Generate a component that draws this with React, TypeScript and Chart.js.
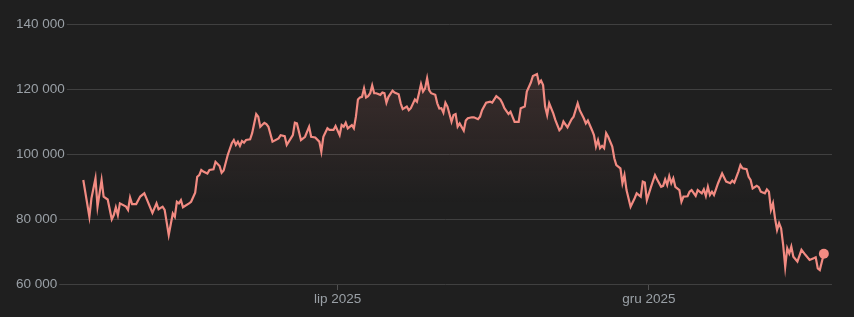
import React, { useEffect, useRef } from "react";
import { Chart, registerables } from "chart.js";

Chart.register(...registerables);

// Day offsets from 26 Feb 2025
const days = [0,3,4,6,7,9,10,12,14,15,16,17,18,21,22,23,24,26,28,30,31,34,36,37,39,40,42,44,45,46,47,48,49,52,53,55,56,57,58,59,61,62,64,65,67,68,69,71,73,74,75,76,77,78,79,80,82,83,85,86,87,89,90,91,93,96,97,99,100,102,103,104,105,107,109,111,112,114,116,117,118,120,121,123,124,126,127,128,129,130,132,133,134,135,136,137,138,139,140,141,142,143,144,146,147,148,149,150,152,153,155,156,157,159,160,161,163,164,165,166,167,168,169,170,171,173,174,175,176,177,178,179,181,182,183,184,185,187,188,189,191,192,194,195,196,198,200,201,203,205,206,207,209,210,212,214,215,217,218,220,221,223,224,225,226,227,228,229,231,232,234,235,236,238,240,241,243,244,246,247,248,250,251,252,253,254,255,256,257,258,260,261,262,264,265,266,267,269,271,272,274,275,276,277,279,281,282,284,285,286,287,288,289,290,291,293,294,295,297,298,299,301,302,304,305,306,307,308,309,310,312,314,316,318,319,320,322,323,324,326,327,328,329,331,332,333,335,336,337,338,339,340,341,342,343,344,345,346,347,348,349,351,353,355,357,359,360,361,362,364];

const prices = [92000,80700,86300,92500,83800,92000,86900,86000,79900,81200,83600,81200,84800,83800,82800,86600,84600,84600,86900,87900,86400,81900,84800,83000,83800,82800,75100,81700,80700,85300,84800,85800,83600,84800,85300,88100,93000,93500,95100,94600,94000,95100,95300,97600,96300,94200,94900,99700,103300,104300,102800,103800,102500,104000,103500,104300,104500,106400,112300,111500,108400,109600,109200,108400,103800,104800,105800,105500,102800,104800,105800,109600,109400,104300,105300,108400,105300,105100,103800,100700,105300,107900,107400,107400,108600,105800,108900,108400,109600,107900,108900,107900,111500,116800,117400,117600,120200,117400,117800,118700,121100,118700,118700,118200,118900,118700,115800,117600,119500,118900,118400,115600,113800,114600,113500,114100,116800,116100,118700,121500,119200,120200,123300,119700,118700,118200,115600,114000,114100,112700,115800,114600,109900,112000,112300,108400,109400,107200,110300,111000,111300,111300,110700,111500,113500,115800,116100,115800,117800,116800,115600,114100,112300,113000,109900,109900,114100,114600,119200,122000,124000,124600,121800,122600,121200,114600,112000,115600,112500,110500,107300,108000,110000,108200,110700,111500,115600,113500,111000,109400,110300,107400,105800,102300,104300,101800,102500,101800,106400,105300,102300,98700,96600,95600,91000,93500,88900,83800,86400,87900,86900,91500,91200,85800,89800,93500,92200,89900,90200,92200,90500,93200,91000,92500,89900,88900,85300,86900,87000,88400,88900,87100,88900,87900,89100,87100,89900,87400,88400,87400,91000,94000,91500,91000,91800,91200,94600,96600,95600,95300,93000,92000,89400,90200,89800,88400,87900,89100,88400,82800,84800,80200,76600,78700,77100,72000,65300,71000,69400,71500,68400,66900,70500,68900,67400,67900,68200,64800,64300,69300];

const xTickDays = [125, 278];
const xTickLabels = ["lip 2025", "gru 2025"];
const yMin = 60000;
const yMax = 140000;
const yStep = 20000;

const BG = "#1f1f1f";
const GRID = "#404040";
const TEXT = "#9aa0a6";
const LINE = "#f28b82";
const FONT = "Arial, 'Liberation Sans', sans-serif";
const FONT_SIZE = 13.5;

const fmt = (v: number) => String(v).replace(/\B(?=(\d{3})+(?!\d))/g, " ");

const leftGrid = {
  id: "leftGrid",
  beforeDatasetsDraw(chart: any) {
    const { ctx, chartArea } = chart;
    const y = chart.scales.y;
    ctx.save();
    ctx.font = `${FONT_SIZE}px ${FONT}`;
    ctx.strokeStyle = GRID;
    ctx.lineWidth = 1;
    y.ticks.forEach((t: any) => {
      const py = Math.round(y.getPixelForValue(t.value)) + 0.5;
      const w = ctx.measureText(String(t.label)).width;
      ctx.beginPath();
      ctx.moveTo(y.left + w + 2, py);
      ctx.lineTo(chartArea.right, py);
      ctx.stroke();
    });
    ctx.restore();
  },
};

export default function App() {
  const ref = useRef<HTMLCanvasElement | null>(null);

  useEffect(() => {
    document.body.style.margin = "0";
    document.body.style.background = BG;
    const canvas = ref.current;
    if (!canvas) return;
    const chart = new Chart(canvas, {
      type: "line",
      data: {
        datasets: [
          {
            data: days.map((d, i) => ({ x: d, y: prices[i] })),
            borderColor: LINE,
            borderWidth: 2.2,
            tension: 0,
            fill: "start",
            backgroundColor: (c: any) => {
              const ch = c.chart;
              const ca = ch.chartArea;
              if (!ca) return "rgba(0,0,0,0)";
              const g = ch.ctx.createLinearGradient(0, ca.top, 0, ca.top + 180);
              g.addColorStop(0, "rgba(242,139,130,0.18)");
              g.addColorStop(1, "rgba(242,139,130,0)");
              return g;
            },
            pointRadius: (c: any) => (c.dataIndex === prices.length - 1 ? 5 : 0),
            pointHoverRadius: 0,
            pointBackgroundColor: LINE,
            pointBorderWidth: 0,
          },
        ],
      },
      options: {
        animation: false,
        responsive: true,
        maintainAspectRatio: false,
        layout: { padding: { left: 16, right: 22, top: 24, bottom: 0 } },
        plugins: { legend: { display: false }, tooltip: { enabled: false } },
        scales: {
          x: {
            type: "linear",
            min: -8,
            max: 368,
            afterBuildTicks: (s: any) => {
              s.ticks = xTickDays.map((v) => ({ value: v }));
            },
            afterFit: (s: any) => {
              s.height = 33;
            },
            ticks: {
              autoSkip: false,
              maxRotation: 0,
              color: TEXT,
              padding: 1,
              font: { family: FONT, size: FONT_SIZE },
              callback: (_v: any, i: number) => xTickLabels[i],
            },
            grid: {
              display: true,
              drawOnChartArea: false,
              drawTicks: true,
              tickLength: 6,
              color: "#505050",
            },
            border: { display: false },
          },
          y: {
            min: yMin,
            max: yMax,
            afterFit: (s: any) => {
              s.width = 51;
            },
            ticks: {
              stepSize: yStep,
              color: TEXT,
              crossAlign: "far",
              font: { family: FONT, size: FONT_SIZE },
              callback: (v: any) => fmt(Number(v)),
            },
            grid: { display: false },
            border: { display: false },
          },
        },
      },
      plugins: [leftGrid],
    });
    return () => chart.destroy();
  }, []);

  return (
    <div style={{ width: 854, height: 317, background: BG, position: "relative" }}>
      <canvas ref={ref} />
    </div>
  );
}
